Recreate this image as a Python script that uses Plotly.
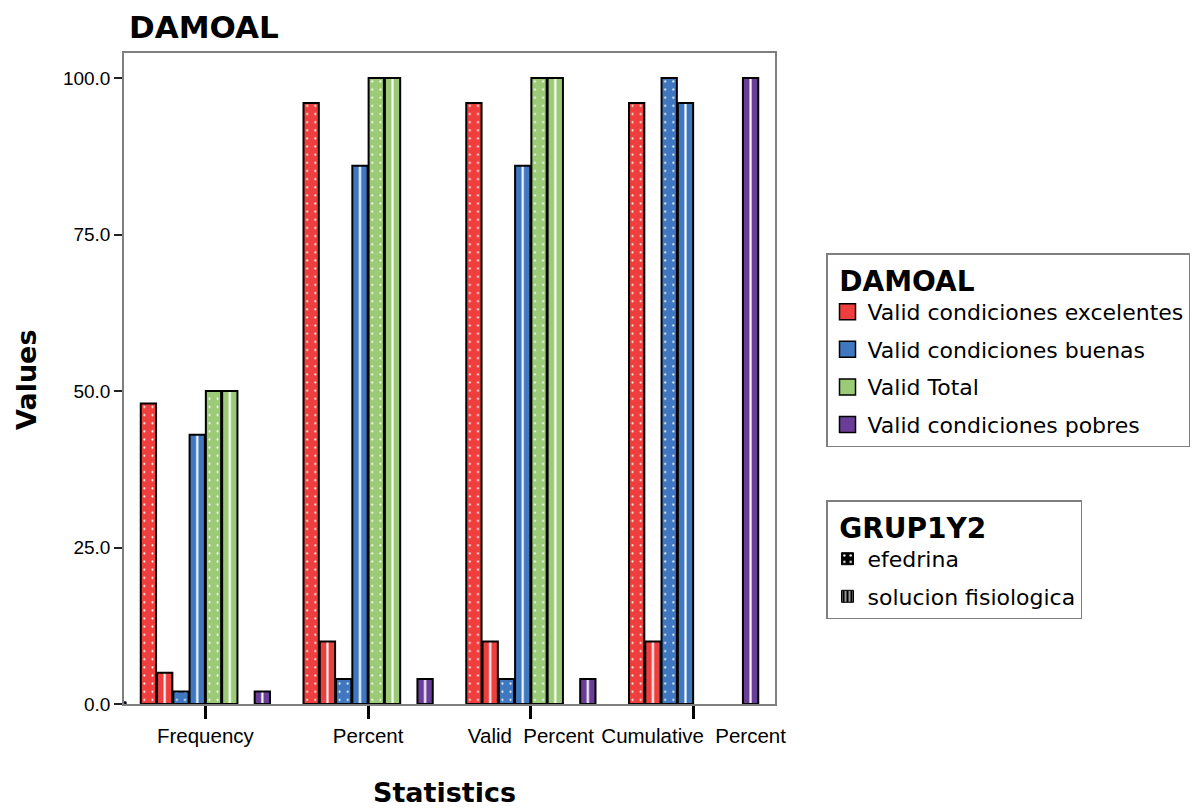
import plotly.graph_objects as go

# ---- data ----
categories = ["Frequency", "Percent", "Valid Percent", "Cumulative Percent"]
tick_text = ["Frequency", "Percent", "Valid\u00a0\u00a0Percent", "Cumulative\u00a0\u00a0Percent"]
y_ticks = [0, 25, 50, 75, 100]

damoal_levels = ["Valid condiciones excelentes", "Valid condiciones buenas",
                 "Valid Total", "Valid condiciones pobres"]
grup_levels = ["efedrina", "solucion fisiologica"]

excelentes_efedrina = [48, 96, 96, 96]
excelentes_solucion = [5, 10, 10, 10]
buenas_efedrina = [2, 4, 4, 100]
buenas_solucion = [43, 86, 86, 96]
total_efedrina = [50, 100, 100, None]
total_solucion = [50, 100, 100, None]
pobres_efedrina = [None, None, None, None]
pobres_solucion = [2, 4, 4, 100]

# ---- styles ----
colors = ["#EE3E3E", "#3F78C0", "#9BCB76", "#6A3E98"]
series = [
    (excelentes_efedrina, excelentes_solucion),
    (buenas_efedrina, buenas_solucion),
    (total_efedrina, total_solucion),
    (pobres_efedrina, pobres_solucion),
]

W, H = 1204, 809
L, R, T, B = 124, 429, 53, 105
pw, ph = W - L - R, H - T - B
BARGAP = 0.2
n_slots = 8
slot = pw / len(categories) * (1 - BARGAP) / n_slots  # pattern tile aligned to bar slots


def pattern(kind, bg, fg="white", legend=False):
    if kind == 0:
        return dict(shape=".", fgcolor=fg, bgcolor=bg, size=8 if legend else slot / 2,
                    solidity=0.12 if legend else 0.05, fillmode="replace")
    return dict(shape="|", fgcolor=fg, bgcolor=bg, size=5 if legend else slot,
                solidity=0.3 if legend else 0.13, fillmode="replace")


fig = go.Figure()
for ci, (ef, sf) in enumerate(series):
    for gi, vals in enumerate((ef, sf)):
        fig.add_trace(go.Bar(
            x=categories, y=vals, name=f"{damoal_levels[ci]} - {grup_levels[gi]}",
            showlegend=False,
            marker=dict(color=colors[ci], line=dict(color="black", width=2),
                        pattern=pattern(gi, colors[ci])),
        ))

# legend entries (hidden axes)
for ci, name in enumerate(damoal_levels):
    fig.add_trace(go.Scatter(
        x=[0], y=[0], name=name, xaxis="x2", yaxis="y2", legend="legend",
        legendgroup=f"d{ci}", mode="markers",
        marker=dict(symbol="square", size=16, color=colors[ci],
                    line=dict(color="black", width=1.5)),
    ))
for gi, name in enumerate(grup_levels):
    fig.add_trace(go.Bar(
        x=[0], y=[0], name=name, xaxis="x2", yaxis="y2", legend="legend2",
        legendgroup=f"g{gi}",
        marker=dict(color="black", line=dict(color="black", width=1),
                    pattern=pattern(gi, "black", legend=True)),
    ))

fig.update_layout(
    width=W, height=H,
    margin=dict(l=L, r=R, t=T, b=B, pad=0),
    paper_bgcolor="white", plot_bgcolor="white",
    barmode="group", bargap=BARGAP, bargroupgap=0.06,
    font=dict(family="Liberation Sans, Arial, sans-serif", color="black"),
    xaxis=dict(
        type="category", categoryorder="array", categoryarray=categories,
        tickvals=categories, ticktext=tick_text,
        ticks="outside", ticklen=13, tickwidth=3, tickcolor="black",
        tickfont=dict(size=20.5), ticklabelstandoff=0,
        showline=True, linecolor="#7f7f7f", linewidth=1.5, mirror=True,
        showgrid=False, zeroline=False,
    ),
    yaxis=dict(
        range=[0, 104], tickvals=y_ticks, tickformat=".1f",
        ticks="outside", ticklen=8, tickwidth=2, tickcolor="#222",
        tickfont=dict(size=19),
        showline=True, linecolor="#7f7f7f", linewidth=1.5, mirror=True,
        showgrid=False, zeroline=False,
    ),
    xaxis2=dict(visible=False, domain=[0, 0.01], anchor="y2", range=[1, 2]),
    yaxis2=dict(visible=False, domain=[0, 0.01], anchor="x2", range=[1, 2]),
    legend=dict(
        x=(826 - L) / pw, xanchor="left", y=(H - B - 253) / ph, yanchor="top",
        bgcolor="white", bordercolor="#7f7f7f", borderwidth=1.5,
        font=dict(family="DejaVu Sans", size=22), itemsizing="trace",
        title=dict(text="\u00a0DAMOAL", font=dict(family="DejaVu Sans", size=28, weight="bold")),
        tracegroupgap=6, traceorder="grouped",
    ),
    legend2=dict(
        x=(826 - L) / pw, xanchor="left", y=(H - B - 500) / ph, yanchor="top",
        bgcolor="white", bordercolor="#7f7f7f", borderwidth=1.5,
        font=dict(family="DejaVu Sans", size=22),
        title=dict(text="\u00a0GRUP1Y2", font=dict(family="DejaVu Sans", size=28, weight="bold")),
        tracegroupgap=6, traceorder="grouped",
    ),
    annotations=[
        dict(text="<b>DAMOAL</b>", xref="paper", yref="paper",
             x=(127 - L) / pw, xanchor="left", y=(H - B - 27) / ph, yanchor="middle",
             showarrow=False, font=dict(family="DejaVu Sans", size=31)),
        dict(text="<b>Values</b>", xref="paper", yref="paper",
             x=(27 - L) / pw, xanchor="center", y=(H - B - 380) / ph, yanchor="middle",
             textangle=-90, showarrow=False, font=dict(family="DejaVu Sans", size=27)),
        dict(text="<b>Statistics</b>", xref="paper", yref="paper",
             x=(444 - L) / pw, xanchor="center", y=(H - B - 792) / ph, yanchor="middle",
             showarrow=False, font=dict(family="DejaVu Sans", size=27)),
    ],
)

fig.write_html("out.html", config={"displayModeBar": False},
               post_script="document.body.style.margin='0';")
